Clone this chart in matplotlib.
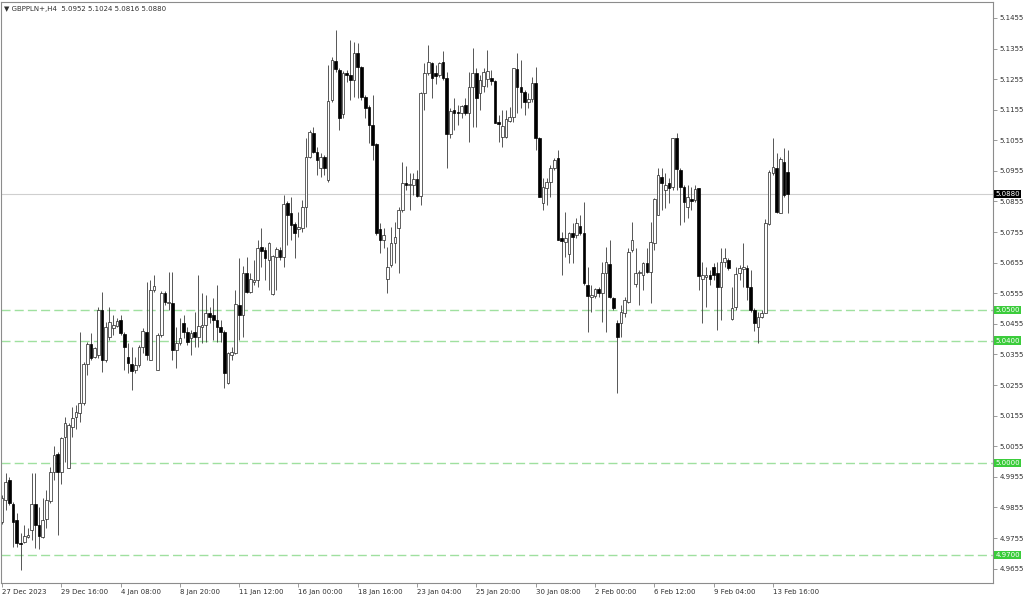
import numpy as np
import matplotlib
matplotlib.use("Agg")
import matplotlib.pyplot as plt

# GBPPLN+ H4 candles, 27 Dec 2023 .. 13 Feb 2024
opens = [
    4.9807, 4.9879, 4.9944, 4.9866, 4.9814, 4.9738, 4.9742, 4.9758, 4.9781, 4.9866,
    4.9797, 4.9758, 4.9817, 4.9876, 4.9971, 5.0029, 4.9971, 5.0085, 4.9984, 5.0118,
    5.0150, 5.0164, 5.0196, 5.0324, 5.0389, 5.0347, 5.0353, 5.0500, 5.0337, 5.0412,
    5.0441, 5.0448, 5.0468, 5.0422, 5.0347, 5.0324, 5.0304, 5.0320, 5.0379, 5.0428,
    5.0337, 5.0566, 5.0304, 5.0419, 5.0556, 5.0523, 5.0523, 5.0370, 5.0392, 5.0458,
    5.0428, 5.0409, 5.0428, 5.0412, 5.0445, 5.0451, 5.0491, 5.0484, 5.0468, 5.0445,
    5.0428, 5.0262, 5.0353, 5.0360, 5.0517, 5.0484, 5.0621, 5.0559, 5.0592, 5.0598,
    5.0706, 5.0697, 5.0664, 5.0553, 5.0674, 5.0697, 5.0674, 5.0850, 5.0818, 5.0782,
    5.0765, 5.0768, 5.0837, 5.1001, 5.1079, 5.1017, 5.0965, 5.1001, 5.0925, 5.1187,
    5.1315, 5.1285, 5.1141, 5.1275, 5.1269, 5.1252, 5.1341, 5.1295, 5.1197, 5.1164,
    5.1105, 5.1043, 5.0765, 5.0729, 5.0602, 5.0647, 5.0719, 5.0768, 5.0827, 5.0916,
    5.0909, 5.0909, 5.0929, 5.0873, 5.1210, 5.1275, 5.1308, 5.1275, 5.1269, 5.1311,
    5.1259, 5.1076, 5.1154, 5.1148, 5.1145, 5.1171, 5.1145, 5.1230, 5.1275, 5.1210,
    5.1233, 5.1256, 5.1259, 5.1249, 5.1115, 5.1066, 5.1066, 5.1118, 5.1131, 5.1288,
    5.1230, 5.1213, 5.1180, 5.1190, 5.1243, 5.1063, 5.0850, 5.0899, 5.0919, 5.0965,
    5.0997, 5.0736, 5.0723, 5.0683, 5.0752, 5.0746, 5.0775, 5.0752, 5.0582, 5.0543,
    5.0546, 5.0569, 5.0556, 5.0621, 5.0651, 5.0540, 5.0458, 5.0458, 5.0491, 5.0527,
    5.0697, 5.0585, 5.0621, 5.0615, 5.0654, 5.0625, 5.0719, 5.0811, 5.0935, 5.0893,
    5.0916, 5.0903, 5.1063, 5.0958, 5.0903, 5.0837, 5.0863, 5.0860, 5.0899, 5.0602,
    5.0608, 5.0615, 5.0641, 5.0621, 5.0576, 5.0657, 5.0664, 5.0471, 5.0510, 5.0621,
    5.0634, 5.0638, 5.0576, 5.0500, 5.0445, 5.0477, 5.0491, 5.0782, 5.0948, 5.0965,
    5.0818, 5.0984, 5.0952,
]
highs = [
    4.9895, 4.9967, 4.9954, 4.9872, 4.9836, 4.9771, 4.9797, 4.9787, 4.9967, 4.9967,
    4.9856, 4.9886, 4.9912, 4.9987, 5.0056, 5.0036, 5.0085, 5.0150, 5.0131, 5.0183,
    5.0190, 5.0428, 5.0330, 5.0396, 5.0425, 5.0379, 5.0510, 5.0559, 5.0461, 5.0510,
    5.0484, 5.0474, 5.0484, 5.0428, 5.0392, 5.0379, 5.0347, 5.0386, 5.0441, 5.0592,
    5.0598, 5.0615, 5.0425, 5.0562, 5.0562, 5.0625, 5.0625, 5.0445, 5.0474, 5.0484,
    5.0445, 5.0435, 5.0494, 5.0615, 5.0556, 5.0549, 5.0510, 5.0540, 5.0582, 5.0468,
    5.0435, 5.0363, 5.0379, 5.0566, 5.0670, 5.0644, 5.0674, 5.0621, 5.0664, 5.0729,
    5.0768, 5.0706, 5.0723, 5.0680, 5.0706, 5.0706, 5.0876, 5.0857, 5.0870, 5.0788,
    5.0821, 5.0860, 5.1063, 5.1089, 5.1099, 5.1033, 5.1014, 5.1007, 5.1301, 5.1328,
    5.1416, 5.1292, 5.1282, 5.1285, 5.1383, 5.1377, 5.1373, 5.1298, 5.1203, 5.1171,
    5.1203, 5.1046, 5.0785, 5.0768, 5.0706, 5.0772, 5.0788, 5.0837, 5.0984, 5.0971,
    5.0948, 5.0948, 5.0958, 5.1213, 5.1308, 5.1367, 5.1311, 5.1301, 5.1311, 5.1347,
    5.1279, 5.1161, 5.1194, 5.1171, 5.1171, 5.1194, 5.1279, 5.1357, 5.1292, 5.1269,
    5.1292, 5.1351, 5.1285, 5.1252, 5.1138, 5.1154, 5.1154, 5.1164, 5.1292, 5.1341,
    5.1318, 5.1220, 5.1210, 5.1262, 5.1295, 5.1066, 5.0932, 5.0932, 5.0974, 5.0997,
    5.1024, 5.0755, 5.0821, 5.0755, 5.0785, 5.0801, 5.0811, 5.0853, 5.0641, 5.0582,
    5.0572, 5.0576, 5.0657, 5.0706, 5.0729, 5.0543, 5.0468, 5.0517, 5.0543, 5.0703,
    5.0788, 5.0703, 5.0631, 5.0657, 5.0703, 5.0788, 5.0867, 5.0965, 5.0965, 5.0948,
    5.0932, 5.1063, 5.1079, 5.0965, 5.0909, 5.0909, 5.0903, 5.0909, 5.0899, 5.0657,
    5.0641, 5.0631, 5.0654, 5.0657, 5.0703, 5.0703, 5.0670, 5.0576, 5.0641, 5.0647,
    5.0719, 5.0647, 5.0631, 5.0507, 5.0494, 5.0500, 5.0798, 5.0958, 5.1063, 5.1014,
    5.1001, 5.1030, 5.1024,
]
lows = [
    4.9800, 4.9846, 4.9863, 4.9725, 4.9725, 4.9650, 4.9738, 4.9755, 4.9748, 4.9722,
    4.9719, 4.9755, 4.9787, 4.9869, 4.9944, 4.9764, 4.9931, 5.0003, 4.9984, 5.0085,
    5.0111, 5.0134, 5.0190, 5.0288, 5.0337, 5.0343, 5.0343, 5.0298, 5.0330, 5.0402,
    5.0419, 5.0445, 5.0419, 5.0304, 5.0294, 5.0239, 5.0294, 5.0314, 5.0360, 5.0337,
    5.0337, 5.0559, 5.0304, 5.0412, 5.0517, 5.0500, 5.0337, 5.0311, 5.0386, 5.0409,
    5.0386, 5.0353, 5.0379, 5.0379, 5.0392, 5.0396, 5.0458, 5.0402, 5.0396, 5.0396,
    5.0245, 5.0258, 5.0337, 5.0356, 5.0402, 5.0412, 5.0556, 5.0556, 5.0582, 5.0576,
    5.0641, 5.0598, 5.0566, 5.0549, 5.0566, 5.0664, 5.0641, 5.0713, 5.0729, 5.0670,
    5.0739, 5.0755, 5.0772, 5.0997, 5.1014, 5.0942, 5.0935, 5.0942, 5.0919, 5.1180,
    5.1279, 5.1089, 5.1128, 5.1246, 5.1187, 5.1197, 5.1194, 5.1187, 5.1128, 5.1046,
    5.0991, 5.0746, 5.0687, 5.0703, 5.0556, 5.0641, 5.0654, 5.0621, 5.0821, 5.0893,
    5.0827, 5.0876, 5.0870, 5.0844, 5.1154, 5.1269, 5.1194, 5.1239, 5.1262, 5.1252,
    5.0965, 5.1063, 5.1089, 5.1105, 5.1128, 5.1138, 5.1050, 5.1099, 5.1099, 5.1154,
    5.1213, 5.1230, 5.1236, 5.1112, 5.1050, 5.1033, 5.1063, 5.1115, 5.1115, 5.1145,
    5.1161, 5.1138, 5.1161, 5.1180, 5.1024, 5.0870, 5.0827, 5.0844, 5.0870, 5.0958,
    5.0729, 5.0615, 5.0674, 5.0654, 5.0654, 5.0736, 5.0746, 5.0582, 5.0428, 5.0494,
    5.0540, 5.0543, 5.0461, 5.0428, 5.0540, 5.0500, 5.0229, 5.0412, 5.0477, 5.0523,
    5.0690, 5.0576, 5.0517, 5.0566, 5.0621, 5.0523, 5.0697, 5.0811, 5.0827, 5.0834,
    5.0850, 5.0893, 5.0893, 5.0778, 5.0788, 5.0801, 5.0827, 5.0853, 5.0566, 5.0458,
    5.0510, 5.0582, 5.0598, 5.0435, 5.0468, 5.0641, 5.0631, 5.0468, 5.0500, 5.0598,
    5.0576, 5.0533, 5.0494, 5.0432, 5.0392, 5.0474, 5.0491, 5.0778, 5.0942, 5.0818,
    5.0818, 5.0870, 5.0816,
]
closes = [
    4.9886, 4.9938, 4.9869, 4.9807, 4.9738, 4.9735, 4.9761, 4.9764, 4.9866, 4.9797,
    4.9761, 4.9814, 4.9879, 4.9971, 5.0026, 4.9971, 5.0082, 5.0131, 5.0124, 5.0147,
    5.0167, 5.0196, 5.0324, 5.0389, 5.0343, 5.0376, 5.0500, 5.0337, 5.0445, 5.0461,
    5.0451, 5.0464, 5.0425, 5.0379, 5.0327, 5.0301, 5.0320, 5.0379, 5.0432, 5.0353,
    5.0566, 5.0579, 5.0419, 5.0556, 5.0527, 5.0527, 5.0370, 5.0392, 5.0409, 5.0428,
    5.0396, 5.0425, 5.0412, 5.0448, 5.0451, 5.0491, 5.0477, 5.0468, 5.0445, 5.0428,
    5.0294, 5.0360, 5.0363, 5.0520, 5.0484, 5.0621, 5.0559, 5.0602, 5.0598, 5.0703,
    5.0693, 5.0670, 5.0719, 5.0677, 5.0700, 5.0674, 5.0847, 5.0811, 5.0778, 5.0752,
    5.0772, 5.0837, 5.1001, 5.1082, 5.1017, 5.0991, 5.1001, 5.0965, 5.1184, 5.1318,
    5.1288, 5.1128, 5.1275, 5.1269, 5.1252, 5.1341, 5.1295, 5.1197, 5.1161, 5.1105,
    5.1040, 5.0752, 5.0729, 5.0746, 5.0641, 5.0719, 5.0739, 5.0827, 5.0916, 5.0909,
    5.0912, 5.0929, 5.0873, 5.1210, 5.1275, 5.1311, 5.1259, 5.1266, 5.1308, 5.1259,
    5.1076, 5.1151, 5.1145, 5.1145, 5.1167, 5.1145, 5.1230, 5.1275, 5.1194, 5.1252,
    5.1279, 5.1282, 5.1249, 5.1112, 5.1109, 5.1102, 5.1125, 5.1131, 5.1292, 5.1230,
    5.1213, 5.1180, 5.1190, 5.1243, 5.1063, 5.0870, 5.0903, 5.0919, 5.0965, 5.0991,
    5.0729, 5.0726, 5.0736, 5.0752, 5.0739, 5.0785, 5.0752, 5.0589, 5.0546, 5.0549,
    5.0569, 5.0556, 5.0621, 5.0657, 5.0543, 5.0507, 5.0412, 5.0494, 5.0533, 5.0690,
    5.0729, 5.0621, 5.0625, 5.0654, 5.0625, 5.0723, 5.0863, 5.0942, 5.0916, 5.0909,
    5.0899, 5.1063, 5.0961, 5.0903, 5.0853, 5.0870, 5.0857, 5.0896, 5.0612, 5.0615,
    5.0615, 5.0602, 5.0615, 5.0576, 5.0657, 5.0670, 5.0638, 5.0507, 5.0618, 5.0638,
    5.0641, 5.0576, 5.0500, 5.0458, 5.0477, 5.0491, 5.0785, 5.0952, 5.0968, 5.0821,
    5.0994, 5.0876, 5.0880,
]

time_labels = ["27 Dec 2023", "29 Dec 16:00", "4 Jan 08:00", "8 Jan 20:00",
               "11 Jan 12:00", "16 Jan 00:00", "18 Jan 16:00", "23 Jan 04:00",
               "25 Jan 20:00", "30 Jan 08:00", "2 Feb 00:00", "6 Feb 12:00",
               "9 Feb 04:00", "13 Feb 16:00"]
levels = [5.0500, 5.0400, 5.0000, 4.9700]
symbol = "GBPPLN+,H4"

o = np.array(opens)
h = np.array(highs)
l = np.array(lows)
c = np.array(closes)
h = np.maximum(h, np.maximum(o, c))
l = np.minimum(l, np.minimum(o, c))
x = np.arange(len(o))
up = c >= o
bottoms = np.minimum(o, c)
heights = np.abs(c - o)

fig = plt.figure(figsize=(10.24, 5.99), dpi=100)
ax = fig.add_axes([1 / 1024, 16 / 599, 992 / 1024, 581 / 599])

txt = "#303030"
grey = "#8c8c8c"

# levels and last price line
for lv in levels:
    ax.axhline(lv, color="#9fe09f", lw=1.0, ls=(0, (6.5, 3)), zorder=0)
    ax.text(1.0025, lv, "%.4f" % lv, transform=ax.get_yaxis_transform(),
            fontsize=5, color="white", va="center", ha="left", clip_on=False,
            bbox=dict(boxstyle="square,pad=0.18", fc="#3bcc3b", ec="none"))
ax.axhline(c[-1], color="#cfcfcf", lw=0.8, zorder=0)
ax.text(1.0025, c[-1], "%.4f" % c[-1], transform=ax.get_yaxis_transform(),
        fontsize=5, color="white", va="center", ha="left", clip_on=False,
        bbox=dict(boxstyle="square,pad=0.18", fc="black", ec="none"))

# candles
ax.vlines(x, l, h, color="#3a3a3a", lw=0.6, zorder=1)
ax.bar(x[up], heights[up], bottom=bottoms[up], width=0.72, color="white",
       edgecolor="#222222", linewidth=0.5, zorder=2)
ax.bar(x[~up], heights[~up], bottom=bottoms[~up], width=0.72, color="black",
       edgecolor="black", linewidth=0.5, zorder=2)

ax.set_xlim(-0.27, 267.4)
ax.set_ylim(4.9608, 5.1507)

yt = np.round(np.arange(4.9655, 5.1460, 0.01), 4)
ax.set_yticks(yt)
ax.set_yticklabels(["%.4f" % v for v in yt])
ax.yaxis.tick_right()
ax.tick_params(axis="y", length=3, width=0.6, color=grey, labelsize=5,
               labelcolor=txt, pad=2)

xt = np.arange(0, len(o), 16)[:len(time_labels)]
ax.set_xticks(xt)
ax.set_xticklabels(time_labels)
for lab in ax.get_xticklabels():
    lab.set_ha("left")
ax.tick_params(axis="x", length=3, width=0.6, color=grey, labelsize=5,
               labelcolor=txt, pad=1.5)

for s in ax.spines.values():
    s.set_color(grey)
    s.set_linewidth(0.8)

ax.text(0.003, 0.993, "\u25bc %s  %.4f %.4f %.4f %.4f" % (symbol, o[-1], h[-1], l[-1], c[-1]),
        transform=ax.transAxes, va="top", ha="left", fontsize=5, color=txt)

fig.savefig("out.png", dpi=100)
